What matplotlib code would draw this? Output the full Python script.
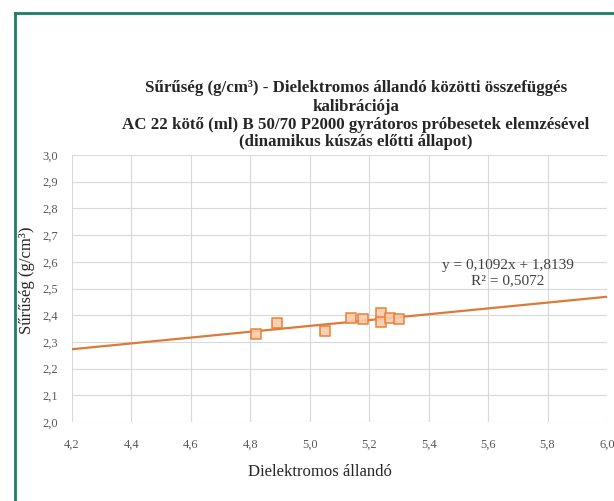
import matplotlib
matplotlib.use('Agg')
import matplotlib.pyplot as plt
from matplotlib.lines import Line2D
import numpy as np

# measured points (dielectric constant vs density)
dielectric = [4.82, 4.89, 5.05, 5.14, 5.18, 5.24, 5.24, 5.27, 5.30]
density = [2.33, 2.37, 2.34, 2.39, 2.385, 2.41, 2.375, 2.39, 2.385]

# trendline given on the chart
slope = 0.1092
intercept = 1.8139
r2_text = '0,5072'

x_ticks = [4.2, 4.4, 4.6, 4.8, 5.0, 5.2, 5.4, 5.6, 5.8, 6.0]
y_ticks = [2.0, 2.1, 2.2, 2.3, 2.4, 2.5, 2.6, 2.7, 2.8, 2.9, 3.0]

title_lines = [
    'Sűrűség (g/cm³) - Dielektromos állandó közötti összefüggés',
    'kalibrációja',
    'AC 22 kötő (ml) B 50/70 P2000 gyrátoros próbesetek elemzésével',
    '(dinamikus kúszás előtti állapot)',
]

plt.rcParams['font.family'] = ['Liberation Serif', 'DejaVu Serif']

W, H = 614, 501
fig = plt.figure(figsize=(W / 100, H / 100), dpi=100)
ax = fig.add_axes([72 / W, 1 - 422 / H, 535 / W, 267 / H])

ax.set_xlim(4.2, 6.0)
ax.set_ylim(2.0, 3.0)
ax.set_xticks(x_ticks)
ax.set_yticks(y_ticks)
ax.set_xticklabels([f'{v:.1f}'.replace('.', ',') for v in x_ticks])
ax.set_yticklabels([f'{v:.1f}'.replace('.', ',') for v in y_ticks])
ax.tick_params(axis='x', length=0, labelsize=9, labelcolor='#595959', pad=12)
ax.tick_params(axis='y', length=0, labelsize=9, labelcolor='#595959', pad=10)
ax.grid(True, color='#D9D9D9', linewidth=0.8)
ax.set_axisbelow(True)
for s in ax.spines.values():
    s.set_visible(False)

# trendline across the full x range
xl = np.array([4.2, 6.0])
ax.plot(xl, slope * xl + intercept, color='#DC7A3A', linewidth=1.6, zorder=2)

ax.scatter(dielectric, density, marker='s', s=55, facecolor='#F8CBAD',
           edgecolor='#ED7D31', linewidth=1.2, zorder=3, alpha=0.9)

fig.text(508 / W, 1 - 265 / H, f'y = {slope:.4f}x + {intercept:.4f}'.replace('.', ','),
         fontsize=11, color='#404040', ha='center', va='center')
fig.text(508 / W, 1 - 281 / H, f'R² = {r2_text}', fontsize=11,
         color='#404040', ha='center', va='center')

ax.set_xlabel('Dielektromos állandó', fontsize=12, color='#262626')
ax.xaxis.set_label_coords((320 - 72) / 535, -(472 - 422) / 267)
ax.xaxis.label.set_va('center')
ax.set_ylabel('Sűrűség (g/cm³)', fontsize=12, color='#262626')
ax.yaxis.set_label_coords(-(72 - 27) / 535, (422 - 280) / 267)
ax.yaxis.label.set_va('center')

title_y = [88, 107, 125, 142]
for line, ty in zip(title_lines, title_y):
    fig.text(356 / W, 1 - ty / H, line, fontsize=12.2, fontweight='bold',
             color='#262626', ha='center', va='center')

# green frame (left and top edges visible)
fig.add_artist(Line2D([15 / W, 15 / W], [0, 1 - 13 / H],
                      transform=fig.transFigure, color='#1A7F64', linewidth=2))
fig.add_artist(Line2D([15 / W, 1], [1 - 13 / H, 1 - 13 / H],
                      transform=fig.transFigure, color='#1A7F64', linewidth=2))

fig.savefig('out.png', dpi=100)
